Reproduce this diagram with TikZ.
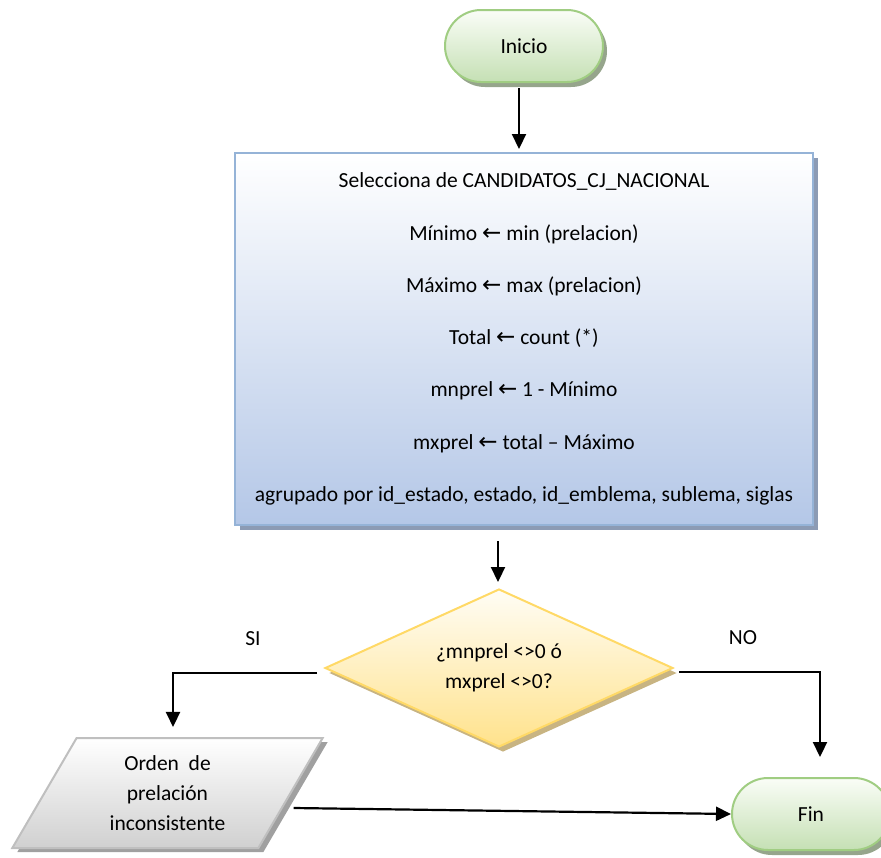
\documentclass[tikz,border=0pt]{standalone}
\usepackage{fontspec}
\setmainfont{Carlito}
\newfontfamily\arrowfont{DejaVu Sans}
\usetikzlibrary{shapes.geometric,shapes.misc,shadows,arrows.meta,calc}
\definecolor{termborder}{RGB}{160,205,130}
\definecolor{termtop}{RGB}{250,253,247}
\definecolor{termbot}{RGB}{197,224,180}
\definecolor{termshadow}{RGB}{150,165,140}
\definecolor{boxborder}{RGB}{149,179,215}
\definecolor{boxbot}{RGB}{180,199,231}
\definecolor{boxshadow}{RGB}{140,155,180}
\definecolor{diaborder}{RGB}{255,217,102}
\definecolor{diatop}{RGB}{255,253,245}
\definecolor{diabot}{RGB}{255,226,140}
\definecolor{diashadow}{RGB}{200,180,130}
\definecolor{paraborder}{RGB}{191,191,191}
\definecolor{parabot}{RGB}{208,208,208}
\definecolor{parashadow}{RGB}{160,160,160}
\newcommand{\larr}{{\arrowfont\fontsize{23}{23}\selectfont ←}}
\begin{document}
\begin{tikzpicture}[x=1pt,y=-1pt,font=\fontsize{21.5}{30}\selectfont,
  term/.style={rounded rectangle, minimum width=158pt, minimum height=72pt, inner sep=0pt,
    draw=termborder, line width=2pt, top color=termtop, bottom color=termbot,
    drop shadow={shadow xshift=4pt, shadow yshift=-5pt, fill=termshadow, opacity=1}},
  procbox/.style={rectangle, minimum width=578pt, minimum height=372pt, inner sep=0pt,
    draw=boxborder, line width=2pt, top color=white, bottom color=boxbot, align=center,
    font=\fontsize{21.5}{52.3}\selectfont,
    drop shadow={shadow xshift=5pt, shadow yshift=-5pt, fill=boxshadow, opacity=1}},
  decision/.style={diamond, aspect=2.2, minimum width=348pt, minimum height=158pt, inner sep=0pt,
    draw=diaborder, line width=2pt, top color=diatop, bottom color=diabot, align=center,
    drop shadow={shadow xshift=4pt, shadow yshift=-5pt, fill=diashadow, opacity=1}},
  iobox/.style={trapezium, trapezium left angle=61.4, trapezium right angle=118.6,
    trapezium stretches=true, minimum width=311pt, minimum height=110pt, inner sep=0pt,
    draw=paraborder, line width=2pt, top color=white, bottom color=parabot, align=center,
    drop shadow={shadow xshift=5pt, shadow yshift=-4pt, fill=parashadow, opacity=1}},
  flow/.style={line width=2.2pt, -{Triangle[length=15pt,width=14pt]}},
  lbl/.style={inner sep=0pt}]
\useasboundingbox (0,0) rectangle (881,857);

\node[term] (inicio) at (524,46) {Inicio};
\node[procbox] (box) at (524,339) {Selecciona de CANDIDATOS\_CJ\_NACIONAL\\
Mínimo \larr{} min (prelacion)\\
Máximo \larr{} max (prelacion)\\
Total \larr{} count (*)\\
mnprel \larr{} 1 - Mínimo\\
mxprel \larr{} total – Máximo\\
agrupado por id\_estado, estado, id\_emblema, sublema, siglas};
\node[decision] (dia) at (499,668) {¿mnprel <>0 ó\\mxprel <>0?};
\node[iobox] (para) at (167.5,793) {Orden\ \ de\\prelación\\inconsistente};
\node[term] (fin) at (811,814) {Fin};

\node[lbl] (si) at (253,639) {SI};
\node[lbl] (no) at (743,638) {NO};

\draw[flow] ($(inicio.south)+(-5,5)$) -- ($(box.north)+(-5,-3)$);
\draw[flow] ($(box.south)+(-26,15)$) -- ($(dia.north)+(-1,-6)$);
\draw[flow] ($(dia.west)+(-7,5)$) -| ($(para.north)+(5.5,-10)$);
\draw[flow] ($(dia.east)+(5,4)$) -| ($(fin.north)+(9,-20)$);
\draw[flow] ($(para.east)+(2,15)$) -- (fin.west);
\end{tikzpicture}
\end{document}
